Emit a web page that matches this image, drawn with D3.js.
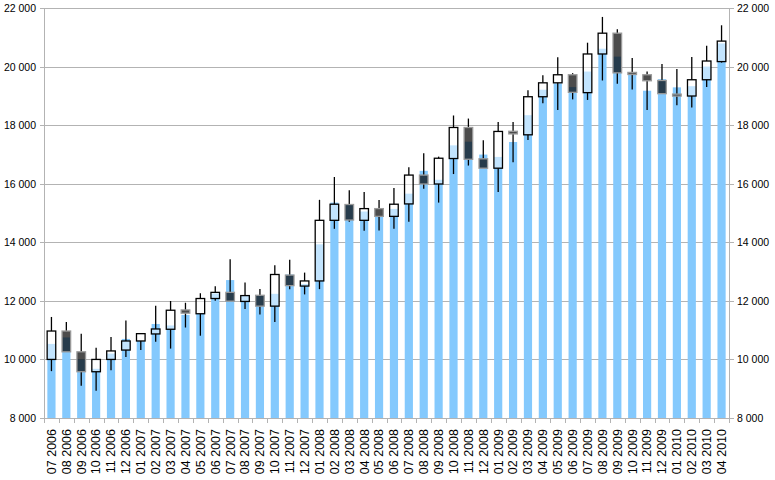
<!DOCTYPE html>
<html>
<head>
<meta charset="utf-8">
<script src="https://cdn.jsdelivr.net/npm/d3@7"></script>
<style>
    body { margin: 0; background: #fff; }
    #chart-container { width: 775px; height: 480px; }
    .grid line { stroke: #b3b3b3; stroke-width: 1; }
    .axisLine { stroke: #b3b3b3; stroke-width: 1; }
    .tick-label { font-family: "Liberation Sans", Arial, sans-serif; fill: #000; }
</style>
</head>
<body>
<div id="chart-container"></div>
<script>
//month labels
var months = ["07 2006","08 2006","09 2006","10 2006","11 2006","12 2006",
    "01 2007","02 2007","03 2007","04 2007","05 2007","06 2007","07 2007","08 2007","09 2007","10 2007","11 2007","12 2007",
    "01 2008","02 2008","03 2008","04 2008","05 2008","06 2008","07 2008","08 2008","09 2008","10 2008","11 2008","12 2008",
    "01 2009","02 2009","03 2009","04 2009","05 2009","06 2009","07 2009","08 2009","09 2009","10 2009","11 2009","12 2009",
    "01 2010","02 2010","03 2010","04 2010"];

//candle values
var openVals = [10000,10970,10260,9580,10000,10320,10630,10870,11030,11690,11560,12080,12290,11980,12190,11820,12880,12505,
    12680,14750,15290,14750,15150,14885,15310,16295,15990,16860,17920,16850,
    16530,17790,17670,18970,19445,19720,19110,20430,21140,19800,19720,19525,
    19060,18995,19550,20170];
var highVals = [11450,11280,10880,10395,10770,11330,10880,11830,11995,11935,12260,12500,13420,12630,12405,13220,13400,12965,
    15450,16230,15780,15720,15440,15850,16565,17040,16925,18330,18225,17480,
    18110,18110,19190,19705,20315,19775,20815,21695,21275,20295,19830,20090,
    19920,20330,20710,21410];
var lowVals = [9600,10260,9100,8930,9630,10080,10320,10600,10370,11090,10810,12000,11990,11720,11535,11275,12400,12220,
    12400,14460,14700,14390,14400,14460,14700,15830,15355,16330,16620,16530,
    15720,16735,17490,18745,18520,18880,18860,19525,19410,19220,18520,19075,
    18680,18600,19300,20135];
var closeVals = [10970,10260,9580,10000,10290,10630,10880,11040,11680,11580,12080,12290,11990,12180,11820,12900,12520,12680,
    14750,15300,14760,15150,14885,15300,16295,15990,16870,17920,16835,16530,
    17785,17700,18970,19445,19720,19120,20430,21140,19785,19730,19515,19075,
    19005,19550,20190,20870];

//column series
var barVals = [10530,10750,10000,9680,10200,10700,10630,11210,11160,11520,11560,12250,12710,12170,12200,12240,12900,12575,
    13930,15355,15300,15050,14870,15140,15660,16440,16135,17310,17435,16995,
    16915,17425,18340,19210,19425,19300,19830,20610,20340,19730,19175,19570,
    19290,19330,20000,20790];

//y ticks
var yTicks = [8000,10000,12000,14000,16000,18000,20000,22000];

(function(){

window.onload = setChart;

function setChart(){

    var width = 775, height = 480;
    var margin = {top: 8, right: 46, bottom: 62, left: 44};

    var svg = d3.select("#chart-container")
        .append("svg")
        .attr("width", width)
        .attr("height", height);

    var x = d3.scaleBand()
        .domain(months)
        .range([margin.left, width - margin.right])
        .paddingInner(0.45)
        .paddingOuter(0.225);

    var y = d3.scaleLinear()
        .domain([8000, 22000])
        .range([height - margin.bottom, margin.top]);

    var fmt = d3.formatLocale({decimal: ",", thousands: "\u2009", grouping: [3], currency: ["", ""]}).format(",d");
    var fmtLabel = function(d){ return fmt(d).replace("\u2009", " "); };

    //gridlines
    svg.append("g")
        .attr("class", "grid")
        .selectAll("line")
        .data(yTicks.slice(1))
        .enter()
        .append("line")
        .attr("x1", margin.left)
        .attr("x2", width - margin.right)
        .attr("y1", function(d){ return Math.round(y(d)) + 0.5; })
        .attr("y2", function(d){ return Math.round(y(d)) + 0.5; });

    //columns
    var bars = months.map(function(m, i){ return {m: m, v: barVals[i]}; });
    svg.append("g")
        .selectAll("rect")
        .data(bars)
        .enter()
        .append("rect")
        .attr("x", function(d){ return x(d.m); })
        .attr("width", x.bandwidth())
        .attr("y", function(d){ return y(d.v); })
        .attr("height", function(d){ return y(8000) - y(d.v); })
        .attr("fill", "#84c9fd");

    //candles
    setCandles(svg, x, y);

    //axes
    setAxes(svg, x, y, width, height, margin, fmtLabel);
};

function setCandles(svg, x, y){

    var candles = months.map(function(m, i){
        return {m: m, o: openVals[i], h: highVals[i], l: lowVals[i], c: closeVals[i]};
    });

    var g = svg.append("g")
        .selectAll("g")
        .data(candles)
        .enter()
        .append("g");

    var cx = function(d){ return x(d.m) + x.bandwidth() / 2; };

    //upper wick
    g.append("line")
        .attr("x1", cx).attr("x2", cx)
        .attr("y1", function(d){ return y(d.h); })
        .attr("y2", function(d){ return y(Math.max(d.o, d.c)); })
        .attr("stroke", "#000")
        .attr("stroke-width", 1.3);

    //lower wick
    g.append("line")
        .attr("x1", cx).attr("x2", cx)
        .attr("y1", function(d){ return y(Math.min(d.o, d.c)); })
        .attr("y2", function(d){ return y(d.l); })
        .attr("stroke", "#000")
        .attr("stroke-width", 1.3);

    //body
    g.append("rect")
        .attr("x", function(d){ return x(d.m) - 0.2; })
        .attr("width", x.bandwidth() + 0.4)
        .attr("y", function(d){ return y(Math.max(d.o, d.c)); })
        .attr("height", function(d){ return Math.max(2, Math.abs(y(d.o) - y(d.c))); })
        .attr("fill", function(d){ return d.c >= d.o ? "rgba(255,255,255,0.5)" : "rgba(0,0,0,0.7)"; })
        .attr("stroke", function(d){ return d.c >= d.o ? "#000" : "#999"; })
        .attr("stroke-width", 1.3);
};

function setAxes(svg, x, y, width, height, margin, fmtLabel){

    var x0 = margin.left, x1 = width - margin.right, yb = height - margin.bottom;

    //axis lines
    svg.append("line").attr("class", "axisLine")
        .attr("x1", x0 + 0.5).attr("x2", x0 + 0.5).attr("y1", margin.top).attr("y2", yb);
    svg.append("line").attr("class", "axisLine")
        .attr("x1", x1 + 0.5).attr("x2", x1 + 0.5).attr("y1", margin.top).attr("y2", yb);
    svg.append("line").attr("class", "axisLine")
        .attr("x1", x0).attr("x2", x1 + 1).attr("y1", yb + 0.5).attr("y2", yb + 0.5);

    //y ticks both sides
    var yt = svg.append("g").selectAll("g")
        .data(yTicks)
        .enter()
        .append("g")
        .attr("transform", function(d){ return "translate(0," + (Math.round(y(d)) + 0.5) + ")"; });

    yt.append("line").attr("class", "axisLine").attr("x1", x0 - 4).attr("x2", x0);
    yt.append("line").attr("class", "axisLine").attr("x1", x1).attr("x2", x1 + 5);

    yt.append("text")
        .attr("class", "tick-label")
        .attr("x", x0 - 8)
        .attr("dy", "0.35em")
        .attr("text-anchor", "end")
        .style("font-size", "10.5px")
        .text(fmtLabel);

    yt.append("text")
        .attr("class", "tick-label")
        .attr("x", x1 + 8)
        .attr("dy", "0.35em")
        .attr("text-anchor", "start")
        .style("font-size", "10.5px")
        .text(fmtLabel);

    //x ticks at category boundaries
    var step = x.step();
    svg.append("g").selectAll("line")
        .data(d3.range(months.length + 1))
        .enter()
        .append("line")
        .attr("class", "axisLine")
        .attr("x1", function(k){ return Math.round(x0 + k * step) + 0.5; })
        .attr("x2", function(k){ return Math.round(x0 + k * step) + 0.5; })
        .attr("y1", yb)
        .attr("y2", yb + 5);

    //category labels
    svg.append("g").selectAll("text")
        .data(months)
        .enter()
        .append("text")
        .attr("class", "tick-label")
        .attr("text-anchor", "end")
        .attr("dy", "0.35em")
        .style("font-size", "12.5px")
        .attr("transform", function(d){
            return "translate(" + (x(d) + x.bandwidth() / 2) + "," + (yb + 11) + ") rotate(-90)";
        })
        .text(function(d){ return d; });
};

})();
</script>
</body>
</html>
